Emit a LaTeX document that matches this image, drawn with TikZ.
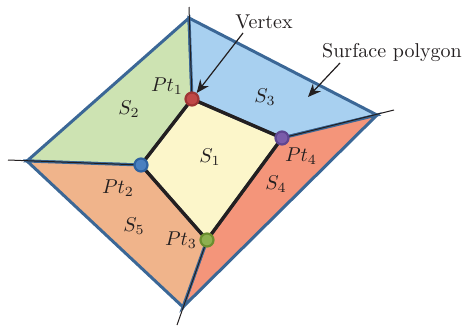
\documentclass[tikz,border=0pt]{standalone}
\usetikzlibrary{arrows.meta}
\definecolor{fyel}{HTML}{FCF6CA}
\definecolor{fgrn}{HTML}{CDE3B2}
\definecolor{fblu}{HTML}{A8D0F0}
\definecolor{fsal}{HTML}{F4957A}
\definecolor{forg}{HTML}{F0B48B}
\definecolor{edge}{HTML}{3B6796}
\definecolor{txt}{HTML}{231F20}
\definecolor{rA}{HTML}{9E3535}\definecolor{rB}{HTML}{C04848}
\definecolor{bA}{HTML}{2F62A0}\definecolor{bB}{HTML}{4A80C0}
\definecolor{gA}{HTML}{6B8E30}\definecolor{gB}{HTML}{8DB050}
\definecolor{pA}{HTML}{5E4690}\definecolor{pB}{HTML}{7A5CAA}
\tikzset{
  region/.style={draw=edge,line width=1.5pt},
  thinline/.style={draw=txt,line width=0.5pt},
  quad/.style={draw=txt,line width=1.7pt,line join=round},
  dot/.style={circle,inner sep=0pt,minimum size=6.5pt,line width=1.1pt},
  lbl/.style={text=txt,inner sep=0pt},
  pointer/.style={draw=txt,line width=0.6pt,-{Stealth[length=6.5pt,width=5.5pt]}}
}
\begin{document}
\begin{tikzpicture}[x=0.5pt,y=-0.5pt]
\useasboundingbox (0,0) rectangle (465,327);
% outer vertices
\coordinate (T) at (189,18);
\coordinate (R) at (377,115);
\coordinate (L) at (27,161);
\coordinate (B) at (183,307);
% inner points
\coordinate (P1) at (192,99);
\coordinate (P2) at (141,165);
\coordinate (P3) at (207,240);
\coordinate (P4) at (282,138);
% extensions
\coordinate (Te) at (189,7);
\coordinate (Le) at (8,160);
\coordinate (Re) at (394,110);
\coordinate (Be) at (177,325);
% regions
\fill[fyel] (P1) -- (P4) -- (P3) -- (P2) -- cycle;
\path[region,fill=fgrn] (T) -- (P1) -- (P2) -- (L) -- cycle;
\path[region,fill=fblu] (T) -- (R) -- (P4) -- (P1) -- cycle;
\path[region,fill=fsal] (R) -- (B) -- (P3) -- (P4) -- cycle;
\path[region,fill=forg] (L) -- (P2) -- (P3) -- (B) -- cycle;
% thin lines
\draw[thinline] (P1) -- (Te);
\draw[thinline] (P2) -- (Le);
\draw[thinline] (P4) -- (Re);
\draw[thinline] (P3) -- (Be);
% inner quad
\draw[quad] (P1) -- (P4) -- (P3) -- (P2) -- cycle;
% dots
\node[dot,draw=rA,fill=rB] (d1) at (P1) {};
\node[dot,draw=bA,fill=bB] (d2) at (P2) {};
\node[dot,draw=gA,fill=gB] (d3) at (P3) {};
\node[dot,draw=pA,fill=pB] (d4) at (P4) {};
% labels
\node[lbl] (s1) at (210,157) {$S_1$};
\node[lbl] (s2) at (129,109) {$S_2$};
\node[lbl] (s3) at (265,97) {$S_3$};
\node[lbl] (s4) at (276,184) {$S_4$};
\node[lbl] (s5) at (134,226) {$S_5$};
\node[lbl] (t1) at (167,86) {$Pt_1$};
\node[lbl] (t2) at (118,188) {$Pt_2$};
\node[lbl] (t3) at (181,240) {$Pt_3$};
\node[lbl] (t4) at (301,156) {$Pt_4$};
\node[lbl,anchor=base] (vx) at (264,28) {Vertex};
\node[lbl,anchor=base] (sp) at (392,57) {Surface polygon};
% pointers
\coordinate (vxs) at (243,33);
\coordinate (sps) at (340,63);
\coordinate (spt) at (308,97);
\draw[pointer] (vxs) -- (d1);
\draw[pointer] (sps) -- (spt);
\end{tikzpicture}
\end{document}
